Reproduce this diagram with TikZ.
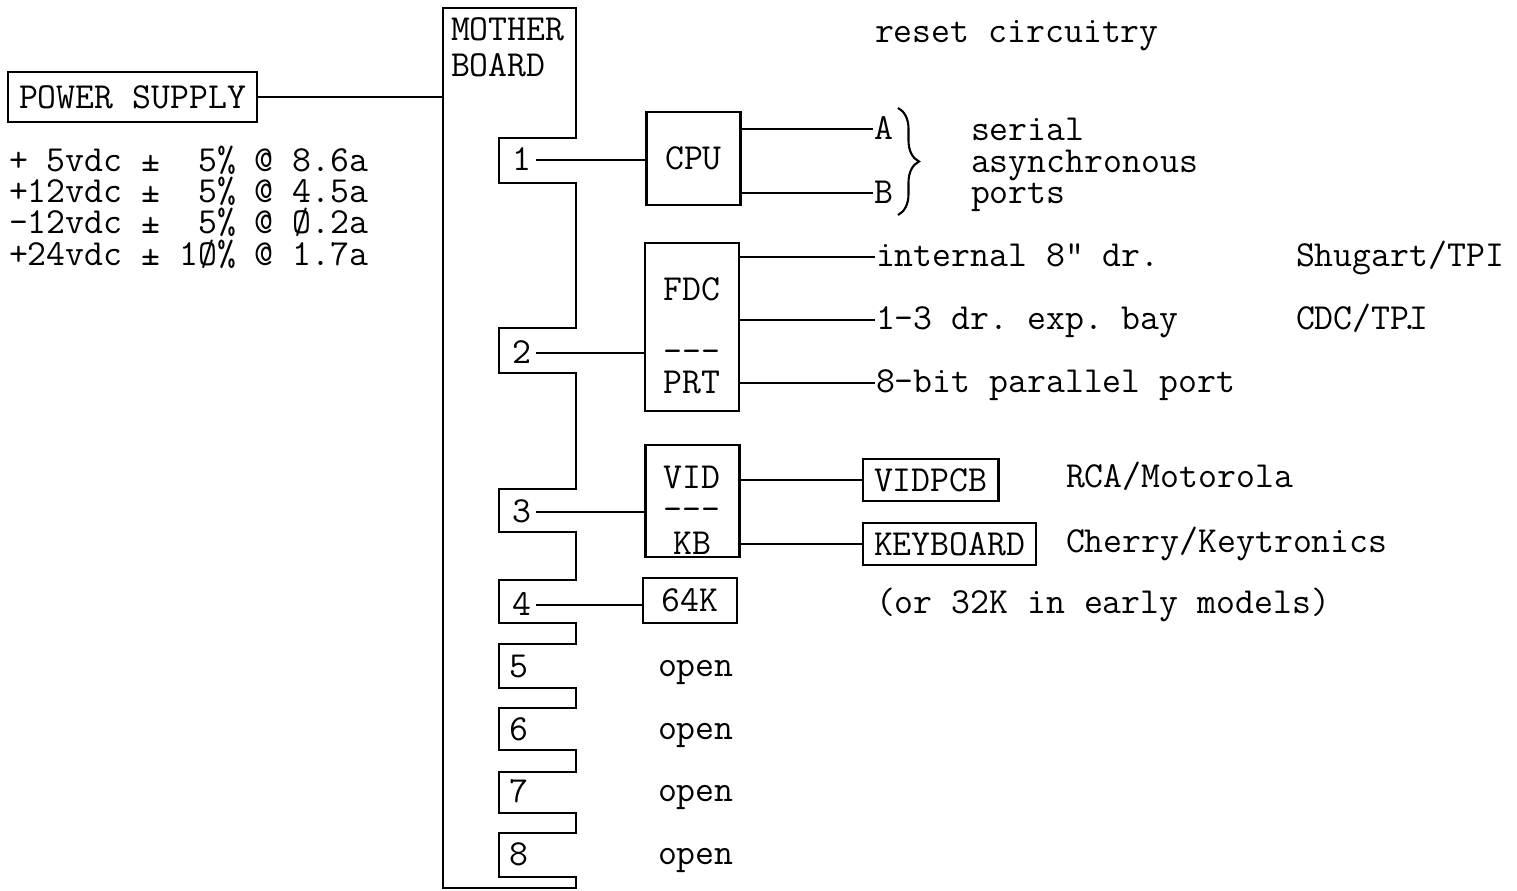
\documentclass[tikz,border=0pt]{standalone}
\renewcommand{\familydefault}{\ttdefault}
\usetikzlibrary{decorations.pathreplacing}
\newcommand{\tightlines}{\lineskiplimit-50pt\relax}
\frenchspacing

\begin{document}
\begin{tikzpicture}[x=0.02cm, y=-0.02cm, line width=1.2pt,
    font=\fontsize{20.9pt}{22pt}\selectfont,
    every node/.style={inner sep=0pt},
    card/.style={draw, minimum width=1.88cm},
    part/.style={draw, anchor=west, inner xsep=0.22cm, minimum height=0.84cm},
    lbl/.style={anchor=west, text height=11pt, text depth=0pt},
    slotnum/.style={lbl, text height=12.4pt, inner xsep=2pt}]
  \useasboundingbox (0,0) rectangle (1517,891);

  % mother board outline, slots 1--8 cut into its right edge
  \draw (443,888) -- (443,8) -- (576,8)
    foreach \t/\b in {138/183,328/373,489/532,580/623,644/688,708/750,772/813,833/877}
      {-- (576,\t) -- (499,\t) -- (499,\b) -- (576,\b)}
    -- (576,888) -- cycle;
  \node[anchor=north west, align=left, font=\fontsize{20.9pt}{20.5pt}\selectfont] (mbTitle) at (450,17) {MOTHER\\BOARD};

  % power supply
  \node[part, minimum height=1cm] (ps) at (7,97) {POWER SUPPLY};
  \coordinate (mbIn) at (443,97);
  \draw (ps) -- (mbIn);
  \node[anchor=west, align=left, font=\fontsize{20.9pt}{17.8pt}\selectfont\tightlines] (psSpec) at (8,207)
    {+~5vdc ±~~5\% @ 8.6a\\+12vdc ±~~5\% @ 4.5a\\-12vdc ±~~5\% @ Ø.2a\\+24vdc ± 1Ø\% @ 1.7a};

  \node[lbl] (reset) at (874,33) {reset circuitry};

  % slot 1: cpu
  \node[card, minimum height=1.86cm] (cpu) at (693.5,158.5) {CPU};
  \node[slotnum] (s1) at (508,160) {1};
  \draw (s1) -- (s1 -| cpu.west);
  \node[slotnum, inner xsep=0pt] (portA) at (873,129) {A};
  \node[slotnum, inner xsep=0pt] (portB) at (873,193) {B};
  \draw (cpu.east |- portA) -- (portA);
  \draw (cpu.east |- portB) -- (portB);
  \draw[decorate, decoration={brace, amplitude=0.42cm}] (898,108) -- (898,215);
  \node[anchor=west, align=left, font=\fontsize{20.9pt}{18.1pt}\selectfont\tightlines] (serialTxt) at (970,165)
    {serial\\asynchronous\\ports};

  % slot 2: floppy + printer
  \node[card, minimum height=3.36cm] (fdc) at (692,327) {};
  \node (fdcTxt) at (692,289) {FDC};
  \node (fdcSep) at (692,356) {\mbox{-}\mbox{-}\mbox{-}};
  \node (prtTxt) at (692,383) {PRT};
  \node[slotnum] (s2) at (508,353) {2};
  \draw (s2) -- (s2 -| fdc.west);
  \node[lbl] (intDrive) at (875,257) {internal 8" dr.};
  \node[lbl] (expBay) at (875,320) {1-3 dr. exp. bay};
  \node[lbl] (parPort) at (875,383) {8-bit parallel port};
  \foreach \n in {intDrive,expBay,parPort} \draw (fdc.east |- \n) -- (\n);
  \node[lbl] (shugart) at (1295,257) {Shugart/TPI};
  \node[lbl] (cdc) at (1295,320) {CDC/TP\makebox[0pt]{.}I};

  % slot 3: video + keyboard
  \node[card, minimum height=2.24cm] (vid) at (692.5,501) {};
  \node (vidTxt) at (692,477) {VID};
  \node (vidSep) at (692,514) {\mbox{-}\mbox{-}\mbox{-}};
  \node (kbTxt) at (692,543) {KB};
  \node[slotnum] (s3) at (508,512) {3};
  \draw (s3) -- (s3 -| vid.west);
  \node[part] (vidpcb) at (862,480) {VIDPCB};
  \node[part] (keyboard) at (862,544) {KEYBOARD};
  \draw (vid.east |- vidpcb) -- (vidpcb);
  \draw (vid.east |- keyboard) -- (keyboard);
  \node[lbl] (rca) at (1065,478) {RCA/Motorola};
  \node[lbl] (cherry) at (1065,543) {Cherry/Keytronics};

  % slot 4: memory
  \node[card, minimum height=0.9cm] (ram) at (690,600.5) {64K};
  \node[slotnum] (s4) at (508,605) {4};
  \draw (s4) -- (s4 -| ram.west);
  \node[lbl] (ramNote) at (875,604) {(or 32K in early models)};

  % slots 5--8
  \foreach \n/\y in {5/667,6/730,7/792,8/855}{
    \node[slotnum] (s\n) at (505,\y) {\n};
    \node[lbl] (open\n) at (657,\y) {open};
  }
\end{tikzpicture}
\end{document}
